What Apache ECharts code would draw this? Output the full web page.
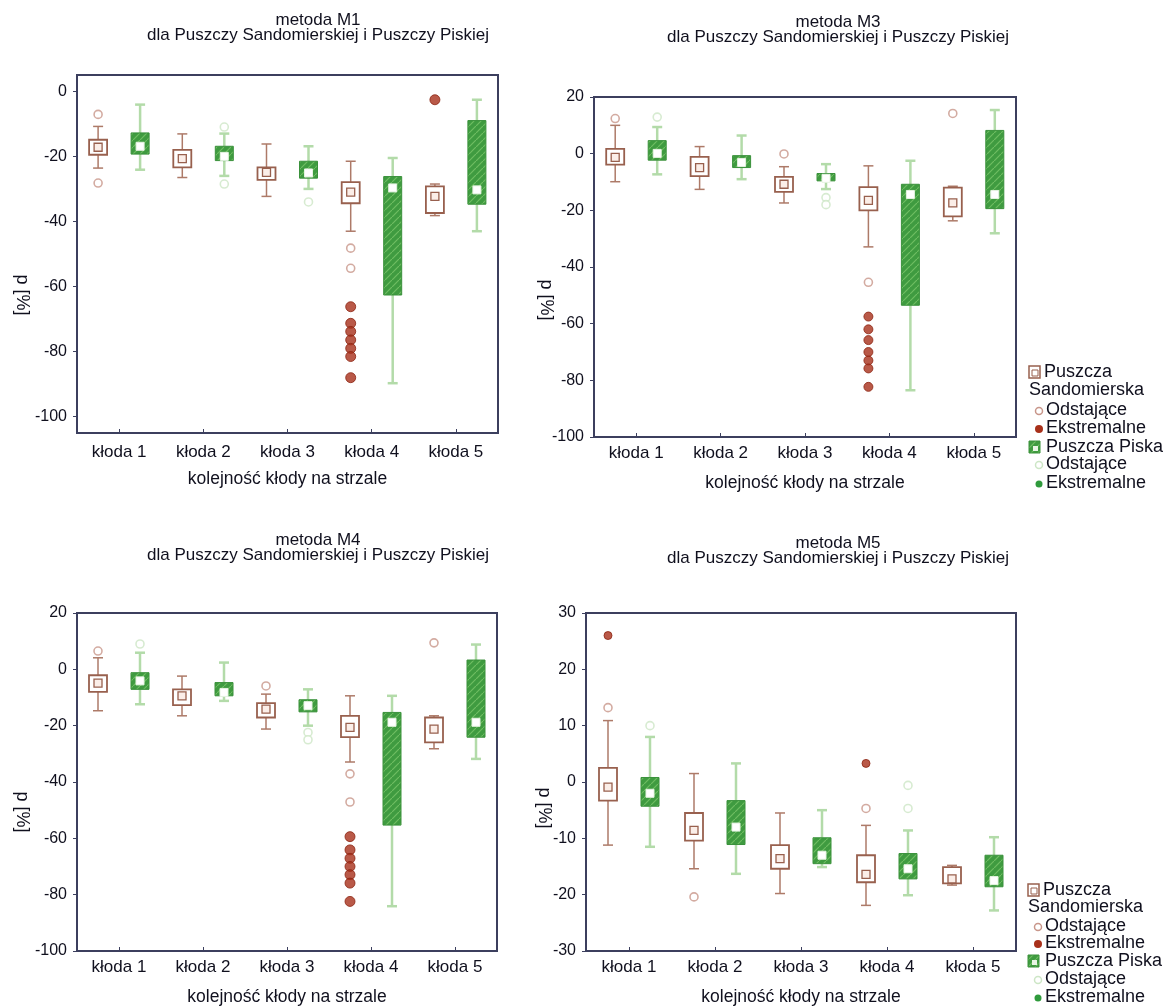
<!DOCTYPE html>
<html><head><meta charset="utf-8">
<script src="https://cdn.jsdelivr.net/npm/echarts@6/dist/echarts.min.js"></script>
<style>html,body{margin:0;padding:0;background:#fff}#c{width:1165px;height:1007px}</style>
</head><body><div id="c"></div>
<script>
// ---------- DATA ----------
const categories = ['kłoda 1','kłoda 2','kłoda 3','kłoda 4','kłoda 5'];
const xAxisTitle = 'kolejność kłody na strzale';
const yAxisTitle = 'p [%]';
const panelTitles = ['metoda M1','metoda M3','metoda M4','metoda M5'];
const subTitle = 'dla Puszczy Sandomierskiej i Puszczy Piskiej';
const yTicksM1 = [0,-20,-40,-60,-80,-100];
const legendLabels = ['Puszcza','Sandomierska','Odstające','Ekstremalne','Puszcza Piska','Odstające','Ekstremalne'];

// each row: [min (non-outlier), Q1, median, Q3, max (non-outlier)]
const m1Sandomierska = [[-23.6,-19.5,-17.2,-14.9,-10.8],[-26.5,-23.4,-20.7,-18.0,-13.1],[-32.3,-27.2,-24.9,-23.4,-16.2],[-43.0,-34.4,-31.0,-27.9,-21.5],[-38.2,-37.4,-32.3,-29.2,-28.5]];
const m1Piska        = [[-24.1,-19.3,-16.9,-12.8,-4.1],[-26.0,-21.3,-20.0,-16.9,-13.0],[-30.0,-26.7,-25.1,-21.5,-16.9],[-89.7,-62.6,-29.7,-26.2,-20.5],[-43.0,-34.7,-30.3,-9.0,-2.6]];
const m1SandOutliers = [[0,-7.1],[0,-28.2],[3,-48.2],[3,-54.4]];
const m1SandExtremes = [[3,-66.2],[3,-71.3],[3,-73.8],[3,-76.4],[3,-79.0],[3,-81.5],[3,-88.0],[4,-2.6]];
const m1PiskaOutliers = [[1,-11.0],[1,-28.5],[2,-34.0]];

const m3Sandomierska = [[-9.9,-3.9,-1.3,1.7,10.0],[-12.6,-7.9,-4.9,-1.1,2.5],[-17.4,-13.5,-10.8,-8.2,-4.6],[-32.9,-20.0,-16.5,-11.8,-4.3],[-23.7,-22.1,-17.4,-12.0,-11.5]];
const m3Piska        = [[-7.3,-2.3,0.1,4.6,9.4],[-9.0,-4.9,-3.1,-0.7,6.4],[-12.5,-9.6,-8.7,-7.0,-3.7],[-83.5,-53.5,-14.4,-10.8,-2.5],[-28.1,-19.4,-14.4,8.2,15.4]];
const m3SandOutliers = [[0,12.4],[2,-0.1],[3,-45.4],[4,14.2]];
const m3SandExtremes = [[3,-57.5],[3,-62.0],[3,-65.8],[3,-70.0],[3,-73.0],[3,-75.8],[3,-82.3]];
const m3PiskaOutliers = [[0,12.9],[2,-15.5],[2,-18.0]];

const m4Sandomierska = [[-14.7,-8.0,-4.9,-2.1,4.1],[-16.5,-12.7,-9.4,-7.1,-2.4],[-21.2,-17.1,-14.1,-12.0,-8.8],[-32.9,-24.1,-20.6,-16.5,-9.4],[-28.2,-25.9,-21.2,-17.1,-16.5]];
const m4Piska        = [[-12.4,-7.1,-4.1,-1.2,5.9],[-11.2,-9.4,-8.2,-4.7,2.4],[-20.0,-15.1,-12.9,-10.8,-7.1],[-84.1,-55.3,-18.8,-15.3,-9.4],[-31.8,-24.1,-18.8,3.3,8.8]];
const m4SandOutliers = [[0,6.5],[2,-5.9],[3,-37.1],[3,-47.1],[4,9.4]];
const m4SandExtremes = [[3,-59.4],[3,-64.1],[3,-67.1],[3,-70.0],[3,-72.9],[3,-75.9],[3,-82.4]];
const m4PiskaOutliers = [[0,9.0],[2,-22.4],[2,-25.0]];

const m5Sandomierska = [[-11.2,-3.3,-0.9,2.5,10.9],[-15.4,-10.4,-8.6,-5.5,1.5],[-19.8,-15.4,-13.6,-11.2,-5.5],[-21.9,-17.8,-16.4,-13.0,-7.7],[-18.3,-18.0,-17.2,-15.1,-14.8]];
const m5Piska        = [[-11.5,-4.3,-2.0,0.8,8.0],[-16.3,-11.1,-8.0,-3.3,3.3],[-15.1,-14.5,-13.0,-9.9,-5.0],[-20.1,-17.2,-15.4,-12.7,-8.6],[-22.8,-18.6,-17.5,-13.0,-9.8]];
const m5SandOutliers = [[0,13.2],[1,-20.4],[3,-4.7]];
const m5SandExtremes = [[0,26.0],[3,3.3]];
const m5PiskaOutliers = [[0,10.0],[3,-0.6],[3,-4.7]];

// ---------- STYLE / LAYOUT ----------
const FONT = "'Liberation Sans', Arial, sans-serif";
const TXT = '#10101e';
const FRAME = '#3c3f5e';
const SAND_BOX = '#98604e';
const SAND_WHISKER = '#ad7a68';
const SAND_OUT = '#c8968a';
const EXTREME = '#a8301a';
const PISKA_WHISKER = '#b3dba9';
const PISKA_OUT = '#cde6c6';
const PISKA_EXT = '#2f9a3c';
const OFFSET = 21, BOX_W = 18, CAP = 5;

function makeHatch(){
  const cv = document.createElement('canvas'); cv.width = 7; cv.height = 7;
  const g = cv.getContext('2d');
  g.fillStyle = '#3f9b40'; g.fillRect(0,0,7,7);
  g.strokeStyle = '#6fbd62'; g.lineWidth = 1.2;
  g.beginPath(); g.moveTo(-1,8); g.lineTo(8,-1); g.stroke();
  return cv;
}
const hatch = makeHatch();

const panels = [
  {title:panelTitles[0], grid:{left:77,top:75,width:421,height:358}, yMin:-105,yMax:5, custom:yTicksM1,
   sand:m1Sandomierska, piska:m1Piska, sOut:m1SandOutliers, sExt:m1SandExtremes, pOut:m1PiskaOutliers,
   tx:318, ty:20, yName:[22,295], lm:11, ext:10},
  {title:panelTitles[1], grid:{left:594,top:97,width:422,height:340}, yMin:-100,yMax:20, interval:20,
   sand:m3Sandomierska, piska:m3Piska, sOut:m3SandOutliers, sExt:m3SandExtremes, pOut:m3PiskaOutliers,
   tx:838, ty:22, yName:[546,300], lm:8, ext:9},
  {title:panelTitles[2], grid:{left:77,top:613,width:420,height:339}, yMin:-100,yMax:20, interval:20,
   sand:m4Sandomierska, piska:m4Piska, sOut:m4SandOutliers, sExt:m4SandExtremes, pOut:m4PiskaOutliers,
   tx:318, ty:540, yName:[22,812], lm:8, ext:10},
  {title:panelTitles[3], grid:{left:586,top:613,width:430,height:339}, yMin:-30,yMax:30, interval:10,
   sand:m5Sandomierska, piska:m5Piska, sOut:m5SandOutliers, sExt:m5SandExtremes, pOut:m5PiskaOutliers,
   tx:838, ty:543, yName:[544,808], lm:8, ext:8}
];

function boxRenderer(side, kind){
  return function(params, api){
    const c = api.value(0);
    const p = [1,2,3,4,5].map(d => api.coord([c, api.value(d)]));
    const x = p[0][0] + side*OFFSET;
    const yMin=p[0][1], yQ1=p[1][1], yMed=p[2][1], yQ3=p[3][1], yMax=p[4][1];
    const sand = kind === 'sand';
    const ws = {stroke: sand?SAND_WHISKER:PISKA_WHISKER, lineWidth: sand?1.5:2.5};
    const ch = [
      {type:'line', shape:{x1:x,y1:yMax,x2:x,y2:yQ3}, style:ws},
      {type:'line', shape:{x1:x,y1:yQ1,x2:x,y2:yMin}, style:ws},
      {type:'line', shape:{x1:x-CAP,y1:yMax,x2:x+CAP,y2:yMax}, style:ws},
      {type:'line', shape:{x1:x-CAP,y1:yMin,x2:x+CAP,y2:yMin}, style:ws},
      {type:'rect', shape:{x:x-BOX_W/2, y:yQ3, width:BOX_W, height:Math.max(yQ1-yQ3,1)},
        style: sand ? {fill:'#fff', stroke:SAND_BOX, lineWidth:1.8}
                    : {fill:{image:hatch, repeat:'repeat'}, stroke:'#3a913b', lineWidth:1}},
      {type:'rect', shape:{x:x-4, y:yMed-4, width:8, height:8},
        style: sand ? {fill:'#fbeee8', stroke:SAND_BOX, lineWidth:1.3}
                    : {fill:'#ffffff', stroke:'#e6f3e2', lineWidth:1}}
    ];
    return {type:'group', children:ch};
  };
}

const grids=[], xAxes=[], yAxes=[], series=[], graphics=[];
panels.forEach((pn,i)=>{
  grids.push(Object.assign({show:true, borderColor:FRAME, borderWidth:2, backgroundColor:'#fff'}, pn.grid));
  xAxes.push({type:'category', gridIndex:i, data:categories, position:'bottom',
    axisLine:{show:false, onZero:false}, axisTick:{show:true, alignWithLabel:true, inside:true, length:4, lineStyle:{color:FRAME}},
    axisLabel:{margin:pn.lm, fontSize:17, color:TXT, fontFamily:FONT},
    name:xAxisTitle, nameLocation:'middle', nameGap:37,
    nameTextStyle:{fontSize:17.5, color:TXT, fontFamily:FONT}, splitLine:{show:false}});
  const ya = {type:'value', gridIndex:i, min:pn.yMin, max:pn.yMax,
    axisLine:{show:false}, axisTick:{show:true, length:4, lineStyle:{color:FRAME}},
    axisLabel:{margin:10, fontSize:16, color:TXT, fontFamily:FONT}, splitLine:{show:false}};
  if (pn.custom){ ya.axisLabel.customValues = pn.custom; ya.axisTick.customValues = pn.custom; }
  else ya.interval = pn.interval;
  yAxes.push(ya);

  series.push({type:'custom', name:'Puszcza Sandomierska', xAxisIndex:i, yAxisIndex:i, z:3,
    renderItem:boxRenderer(-1,'sand'), encode:{x:0, y:[1,2,3,4,5]},
    data:pn.sand.map((d,k)=>[k].concat(d))});
  series.push({type:'custom', name:'Puszcza Piska', xAxisIndex:i, yAxisIndex:i, z:3,
    renderItem:boxRenderer(1,'piska'), encode:{x:0, y:[1,2,3,4,5]},
    data:pn.piska.map((d,k)=>[k].concat(d))});
  series.push({type:'scatter', name:'Odstające', xAxisIndex:i, yAxisIndex:i, z:4, symbol:'circle', symbolSize:8,
    symbolOffset:[-OFFSET,0], itemStyle:{color:'#fff', borderColor:SAND_OUT, borderWidth:1.6}, data:pn.sOut});
  series.push({type:'scatter', name:'Ekstremalne', xAxisIndex:i, yAxisIndex:i, z:4, symbol:'circle', symbolSize:pn.ext,
    symbolOffset:[-OFFSET,0], itemStyle:{color:EXTREME, borderColor:'#8c2412', borderWidth:1}, data:pn.sExt});
  series.push({type:'scatter', name:'Odstające P', xAxisIndex:i, yAxisIndex:i, z:4, symbol:'circle', symbolSize:8,
    symbolOffset:[OFFSET,0], itemStyle:{color:'#fff', borderColor:PISKA_OUT, borderWidth:1.6}, data:pn.pOut});

  graphics.push({type:'text', x:pn.tx, y:pn.ty, style:{text:pn.title, font:'17px '+FONT, fill:TXT, align:'center', verticalAlign:'middle'}});
  graphics.push({type:'text', x:pn.tx, y:pn.ty+15, style:{text:subTitle, font:'17px '+FONT, fill:TXT, align:'center', verticalAlign:'middle'}});
  graphics.push({type:'text', x:pn.yName[0], y:pn.yName[1], rotation:-Math.PI/2,
    style:{text:yAxisTitle, font:'18px '+FONT, fill:TXT, align:'center', verticalAlign:'middle'}});
});

function legend(x0, ys){
  const F = '18px '+FONT;
  const t = (i,x)=>({type:'text', x:x, y:ys[i], style:{text:legendLabels[i], font:F, fill:TXT, align:'left', verticalAlign:'middle'}});
  return [
    {type:'rect', shape:{x:x0, y:ys[0]-6, width:11, height:12}, style:{fill:'#fff', stroke:SAND_BOX, lineWidth:1.5}},
    {type:'rect', shape:{x:x0+3, y:ys[0]-2, width:6, height:6}, style:{fill:'none', stroke:SAND_BOX, lineWidth:1}},
    t(0,x0+15), t(1,x0),
    {type:'circle', shape:{cx:x0+10, cy:ys[2]+1, r:3.5}, style:{fill:'#fff', stroke:SAND_OUT, lineWidth:1.5}},
    t(2,x0+17),
    {type:'circle', shape:{cx:x0+10, cy:ys[3]+1, r:4}, style:{fill:EXTREME}},
    t(3,x0+17),
    {type:'rect', shape:{x:x0, y:ys[4]-6, width:11, height:12}, style:{fill:{image:hatch, repeat:'repeat'}, stroke:'#3a913b', lineWidth:1}},
    {type:'rect', shape:{x:x0+4, y:ys[4]-1, width:5, height:5}, style:{fill:'#e8f5e4'}},
    t(4,x0+17),
    {type:'circle', shape:{cx:x0+10, cy:ys[5]+1, r:3.5}, style:{fill:'#fff', stroke:PISKA_OUT, lineWidth:1.5}},
    t(5,x0+17),
    {type:'circle', shape:{cx:x0+10, cy:ys[6]+1, r:3.5}, style:{fill:PISKA_EXT}},
    t(6,x0+17)
  ];
}
legend(1029,[372,390,410,428,447,464,483]).forEach(g=>graphics.push(g));
legend(1028,[890,907,926,943,961,979,997]).forEach(g=>graphics.push(g));

const chart = echarts.init(document.getElementById('c'), null, {renderer:'canvas'});
chart.setOption({
  backgroundColor:'#fff', animation:false,
  grid:grids, xAxis:xAxes, yAxis:yAxes, series:series, graphic:graphics
});
</script></body></html>
